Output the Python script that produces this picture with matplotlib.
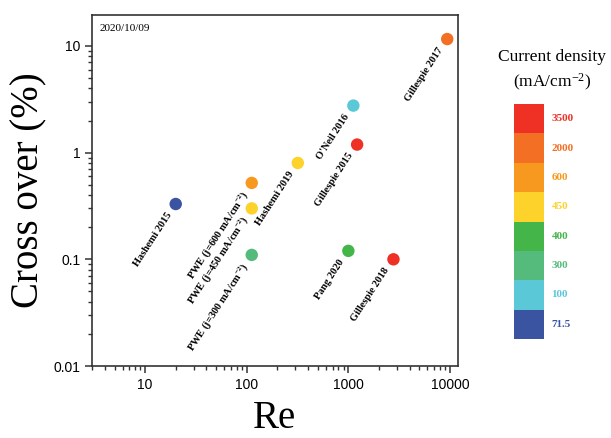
import numpy as np
import matplotlib
matplotlib.use("Agg")
from matplotlib import pyplot as plt
from matplotlib.ticker import LogLocator, FixedLocator, FixedFormatter, NullFormatter

plt.rcParams["mathtext.fontset"] = "custom"
plt.rcParams["mathtext.rm"] = "Liberation Serif"
plt.rcParams["mathtext.it"] = "Liberation Serif:italic"
plt.rcParams["mathtext.bf"] = "Liberation Serif:bold"

# data
names = ["Hashemi 2015", r"PWE (j=600 mA/cm$^{\mathbf{-2}}$)", r"PWE (j=450 mA/cm$^{\mathbf{-2}}$)",
         r"PWE (j=300 mA/cm$^{\mathbf{-2}}$)", "Hashemi 2019", "O'Neil 2016", "Gillespie 2015",
         "Pang 2020", "Gillespie 2018", "Gillespie 2017"]
re_vals = [20, 112, 112, 112, 318, 1120, 1220, 1000, 2780, 9400]
crossover = [0.33, 0.52, 0.30, 0.11, 0.80, 2.76, 1.19, 0.12, 0.10, 11.6]
density = ["71.5", "600", "450", "300", "450", "100", "3500", "400", "3500", "2000"]

legend_levels = ["3500", "2000", "600", "450", "400", "300", "100", "71.5"]
legend_colors = ["#ee3124", "#f36f24", "#f7981f", "#fdd22b", "#43b549", "#55bb7c", "#5bc8d8", "#3a54a2"]
color_of = dict(zip(legend_levels, legend_colors))

serif = ["Liberation Serif", "DejaVu Serif"]
sans = ["Liberation Sans", "DejaVu Sans"]

fig = plt.figure(figsize=(6.11, 4.38), dpi=100)
ax = fig.add_axes([92/611, 1-366/438, 366/611, 351/438])

ax.scatter(re_vals, crossover, s=80, c=[color_of[d] for d in density], zorder=3, linewidths=0)
for n, x, y in zip(names, re_vals, crossover):
    ax.annotate(n, (x, y), xytext=(-6, -9), textcoords="offset pixels",
                rotation=57, rotation_mode="anchor", ha="right", va="center",
                fontsize=7.5, fontweight="bold", family=serif)

ax.set_xscale("log")
ax.set_yscale("log")
ax.set_xlim(3.0, 12000)
ax.set_ylim(0.01, 19.5)
ax.xaxis.set_major_locator(FixedLocator([10, 100, 1000, 10000]))
ax.xaxis.set_major_formatter(FixedFormatter(["10", "100", "1000", "10000"]))
ax.yaxis.set_major_locator(FixedLocator([0.01, 0.1, 1, 10]))
ax.yaxis.set_major_formatter(FixedFormatter(["0.01", "0.1", "1", "10"]))
ax.xaxis.set_minor_locator(LogLocator(base=10, subs=np.arange(2, 10)))
ax.yaxis.set_minor_locator(LogLocator(base=10, subs=np.arange(2, 10)))
ax.xaxis.set_minor_formatter(NullFormatter())
ax.yaxis.set_minor_formatter(NullFormatter())
ax.tick_params(which="major", direction="out", length=5, width=1.1, color="#333333", labelsize=10)
ax.tick_params(which="minor", direction="out", length=3, width=1.0, color="#333333")
for lab in ax.get_xticklabels() + ax.get_yticklabels():
    lab.set_family(sans)
for sp in ax.spines.values():
    sp.set_linewidth(1.2)
    sp.set_color("#333333")

ax.set_xlabel("Re", fontsize=28, family=serif, labelpad=6)
ax.set_ylabel("Cross over (%)", fontsize=28, family=serif, labelpad=4)
ax.text(0.02, 0.975, "2020/10/09", transform=ax.transAxes, fontsize=8, family=serif, va="top")

# colour legend
lax = fig.add_axes([514/611, 1-339/438, 30/611, 235/438])
n = len(legend_levels)
for i, (lev, col) in enumerate(zip(legend_levels, legend_colors)):
    b = n - 1 - i
    lax.bar(0, 1, bottom=b, width=1, color=col, align="edge", linewidth=0)
    lax.text(1.25, b + 0.5, lev, color=col, fontsize=8, fontweight="bold",
             family=serif, va="center", ha="left")
lax.set_xlim(0, 1)
lax.set_ylim(0, n)
lax.axis("off")
fig.text(552/611, 1-71/438, "Current density\n(mA/cm$^{-2}$)", ha="center", va="center",
         fontsize=12.5, family=serif, linespacing=1.4)

fig.savefig("out.png", dpi=100)
